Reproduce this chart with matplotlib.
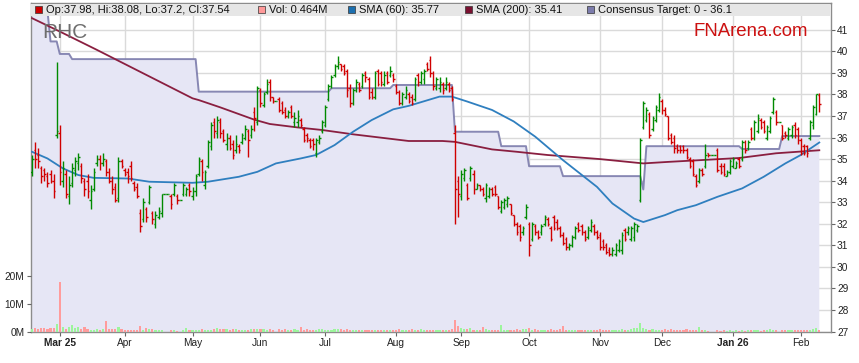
import numpy as np
import pandas as pd
import matplotlib
matplotlib.use('Agg')
import matplotlib.pyplot as plt
from matplotlib.patches import Rectangle

plt.rcParams['font.family'] = ['Liberation Sans', 'DejaVu Sans']

# RHC daily bars, 18 Feb 2025 - 10 Feb 2026 (weekdays, holidays are flat bars)
opens = [
    34.4, 35.4, 35.2, 34.6, 34.5, 34.2, 34.3, 34.0, 36.1, 36.2,
    34.0, 34.3, 33.3, 33.9, 34.5, 34.8, 34.7, 34.0, 34.0, 33.1,
    33.6, 34.8, 35.0, 34.8, 34.9, 34.4, 34.0, 33.7, 33.2, 34.9,
    34.5, 34.4, 34.7, 33.9, 33.7, 32.5, 32.2, 32.7, 33.0, 32.5,
    32.0, 32.3, 32.5, 33.4, 33.4, 33.3, 33.4, 33.3, 33.1, 33.4,
    33.4, 33.8, 33.3, 33.5, 34.3, 34.9, 33.8, 34.7, 35.6, 36.7,
    36.2, 36.7, 36.3, 35.7, 36.0, 35.7, 35.4, 35.6, 35.8, 36.0,
    36.3, 36.1, 37.2, 36.7, 38.2, 37.5, 38.1, 38.6, 37.9, 37.7,
    37.8, 37.6, 37.3, 37.0, 37.4, 36.7, 36.7, 36.8, 36.4, 36.1,
    35.9, 35.9, 35.3, 35.8, 36.3, 36.6, 37.8, 38.4, 38.9, 39.3,
    39.4, 39.3, 39.1, 38.3, 37.6, 38.2, 38.5, 38.4, 39.0, 38.7,
    38.1, 37.9, 39.1, 39.0, 38.5, 39.0, 38.9, 38.9, 38.4, 38.1,
    37.6, 37.9, 38.0, 37.9, 37.8, 38.9, 38.6, 38.7, 39.4, 39.6,
    39.0, 38.3, 38.3, 38.5, 38.3, 38.5, 38.3, 36.2, 34.0, 33.3,
    34.1, 33.8, 34.1, 34.3, 33.6, 33.8, 33.6, 33.2, 33.3, 33.6,
    33.7, 33.3, 32.6, 32.8, 32.9, 32.9, 32.4, 32.0, 31.9, 31.6,
    32.3, 32.0, 31.3, 31.9, 31.6, 31.6, 32.0, 32.2, 31.8, 32.3,
    32.1, 31.8, 31.5, 31.3, 30.9, 31.0, 31.4, 32.0, 31.9, 31.6,
    31.4, 31.7, 31.9, 31.6, 31.5, 31.2, 31.0, 30.8, 30.6, 30.6,
    30.8, 30.8, 31.7, 31.6, 31.3, 31.4, 31.7, 33.1, 36.5, 36.8,
    37.1, 36.4, 36.8, 37.3, 37.7, 37.3, 37.0, 36.1, 36.0, 35.6,
    35.6, 35.6, 35.4, 35.0, 34.9, 34.2, 34.0, 34.5, 34.7, 35.3,
    35.2, 35.2, 35.4, 34.7, 34.7, 34.2, 34.4, 34.7, 34.6, 35.0,
    35.0, 35.8, 35.5, 36.4, 36.0, 36.3, 36.8, 36.7, 36.0, 36.3,
    37.2, 37.2, 36.7, 36.6, 36.2, 36.0, 36.1, 36.6, 36.4, 35.9,
    35.6, 35.6, 36.0, 36.6, 37.1, 37.98,
]
highs = [
    35.2, 35.8, 35.5, 34.7, 34.6, 34.4, 34.5, 34.3, 39.5, 36.6,
    34.9, 34.5, 34.2, 34.8, 35.1, 35.3, 34.8, 34.1, 34.3, 33.8,
    34.6, 35.2, 35.2, 35.3, 35.0, 34.6, 34.2, 33.9, 35.1, 35.0,
    34.6, 34.6, 34.9, 34.0, 33.9, 32.7, 33.2, 32.8, 33.8, 32.6,
    32.6, 32.8, 33.4, 33.4, 33.4, 33.4, 33.9, 33.4, 33.1, 33.9,
    33.7, 33.9, 33.7, 34.3, 35.1, 35.0, 34.5, 35.9, 36.7, 36.9,
    37.0, 36.9, 36.4, 36.2, 36.1, 35.9, 36.1, 35.7, 36.2, 36.6,
    36.4, 36.6, 37.4, 38.4, 38.3, 38.1, 38.7, 38.7, 37.9, 37.7,
    37.9, 37.7, 37.4, 37.3, 37.5, 37.2, 37.3, 36.9, 36.5, 36.2,
    36.0, 36.0, 36.0, 36.1, 36.8, 37.5, 38.5, 38.9, 39.4, 39.8,
    39.4, 39.4, 39.2, 38.5, 38.3, 38.7, 38.6, 39.0, 39.1, 38.8,
    38.3, 39.1, 39.2, 39.1, 39.1, 39.1, 39.3, 39.0, 38.5, 38.2,
    38.1, 38.4, 38.1, 38.0, 38.8, 39.0, 39.1, 39.2, 39.5, 39.8,
    39.1, 38.8, 38.8, 38.6, 38.8, 38.6, 38.4, 36.6, 34.2, 34.5,
    34.6, 33.9, 34.7, 34.5, 33.9, 33.8, 33.7, 33.9, 33.7, 33.7,
    33.8, 33.3, 33.1, 33.2, 33.3, 32.9, 32.4, 32.1, 32.0, 31.9,
    32.9, 32.1, 32.1, 32.0, 31.7, 32.0, 32.4, 32.3, 31.9, 32.4,
    32.2, 31.9, 31.6, 31.4, 31.1, 31.5, 31.9, 32.1, 32.0, 31.7,
    31.9, 32.2, 32.0, 31.7, 31.6, 31.3, 31.1, 30.9, 30.9, 31.1,
    31.3, 31.6, 31.8, 31.9, 31.9, 32.1, 32.0, 36.0, 37.7, 37.4,
    37.2, 37.0, 37.5, 38.05, 37.8, 37.4, 37.0, 36.2, 36.1, 35.7,
    35.65, 35.65, 35.5, 35.1, 35.0, 34.3, 34.6, 34.6, 35.7, 35.3,
    35.2, 35.2, 35.5, 34.8, 34.8, 34.5, 35.0, 35.1, 34.9, 35.1,
    35.9, 35.9, 35.9, 36.5, 36.8, 37.1, 36.9, 36.8, 36.6, 37.0,
    37.9, 37.3, 36.7, 36.6, 36.3, 36.5, 36.6, 36.7, 36.5, 36.0,
    35.7, 35.65, 36.8, 37.5, 38.0, 38.08,
]
lows = [
    34.2, 34.6, 34.6, 33.9, 34.0, 33.7, 33.9, 33.2, 36.0, 33.8,
    33.7, 33.2, 32.9, 33.7, 34.2, 34.5, 33.9, 33.3, 33.2, 32.7,
    33.5, 34.7, 34.5, 34.7, 34.2, 33.9, 33.4, 33.0, 33.0, 34.6,
    34.2, 33.9, 34.0, 33.5, 33.2, 31.6, 32.1, 32.1, 32.9, 32.0,
    31.8, 32.2, 32.3, 33.4, 33.4, 32.7, 33.3, 32.9, 33.1, 33.3,
    33.3, 33.3, 33.1, 33.3, 34.2, 34.0, 33.6, 34.6, 35.4, 36.0,
    36.0, 36.0, 35.8, 35.4, 35.4, 35.0, 35.3, 35.3, 35.7, 35.9,
    35.1, 36.0, 36.3, 36.6, 37.4, 37.4, 38.0, 37.7, 37.6, 37.7,
    37.2, 37.1, 36.9, 36.9, 36.9, 36.5, 36.5, 36.5, 35.8, 35.8,
    35.5, 35.4, 35.1, 35.7, 36.2, 36.5, 37.7, 38.3, 38.8, 39.2,
    39.1, 38.9, 37.9, 37.4, 37.5, 38.1, 38.1, 38.3, 38.6, 37.8,
    37.8, 37.8, 38.4, 38.4, 38.4, 38.5, 38.8, 38.6, 38.0, 37.5,
    37.5, 37.8, 37.6, 37.5, 37.7, 38.4, 38.5, 38.5, 39.1, 38.8,
    38.2, 38.2, 38.1, 38.0, 38.2, 38.1, 37.7, 32.0, 32.3, 33.1,
    34.0, 33.1, 34.0, 33.4, 33.6, 33.5, 33.3, 33.0, 33.2, 33.3,
    33.3, 32.7, 32.5, 32.7, 32.8, 32.4, 31.9, 31.5, 31.2, 31.5,
    32.2, 30.5, 31.2, 31.5, 31.3, 31.5, 31.9, 31.9, 31.2, 31.7,
    31.7, 31.4, 31.0, 30.8, 30.8, 30.9, 31.3, 31.6, 31.5, 31.2,
    31.3, 31.6, 31.5, 31.3, 30.8, 30.8, 30.6, 30.5, 30.5, 30.5,
    30.7, 30.6, 31.2, 31.5, 31.2, 31.2, 31.6, 33.0, 36.4, 36.7,
    36.0, 36.3, 36.7, 37.2, 37.1, 37.0, 35.9, 35.7, 35.3, 35.3,
    35.3, 35.3, 35.0, 34.6, 34.2, 33.7, 33.9, 34.2, 34.6, 35.1,
    35.2, 35.2, 34.4, 34.3, 34.2, 34.2, 34.3, 34.6, 34.6, 34.6,
    34.9, 35.3, 35.4, 35.9, 35.9, 36.2, 36.4, 36.2, 35.9, 36.2,
    37.1, 36.6, 36.7, 35.9, 36.0, 35.9, 36.0, 36.0, 35.7, 35.2,
    35.2, 35.1, 35.9, 36.4, 37.05, 37.2,
]
closes = [
    35.0, 35.0, 34.9, 34.2, 34.3, 33.9, 34.0, 33.5, 36.3, 34.4,
    34.6, 33.4, 33.8, 34.6, 34.9, 35.1, 34.1, 33.6, 33.5, 33.5,
    34.4, 35.0, 34.8, 35.0, 34.4, 34.0, 33.6, 33.1, 34.9, 34.7,
    34.3, 34.2, 34.1, 33.6, 33.3, 31.9, 33.0, 32.3, 33.7, 32.2,
    32.4, 32.6, 33.4, 33.4, 33.4, 32.9, 33.8, 33.1, 33.1, 33.8,
    33.6, 33.5, 33.5, 34.2, 35.0, 34.4, 34.4, 35.8, 36.6, 36.3,
    36.8, 36.2, 35.9, 36.0, 35.5, 35.2, 35.7, 35.4, 36.1, 36.4,
    35.9, 36.4, 36.9, 38.3, 37.6, 38.0, 38.5, 37.9, 37.7, 37.7,
    37.3, 37.2, 37.0, 37.2, 37.0, 36.9, 37.0, 36.6, 35.9, 36.0,
    35.6, 35.7, 35.9, 36.0, 36.7, 37.4, 38.4, 38.8, 39.3, 39.5,
    39.2, 39.0, 38.2, 37.6, 38.2, 38.6, 38.2, 38.9, 38.8, 37.9,
    37.9, 39.0, 38.5, 38.6, 38.9, 38.6, 39.1, 38.7, 38.1, 37.6,
    38.0, 38.2, 37.7, 37.6, 38.7, 38.6, 39.0, 39.1, 39.2, 39.0,
    38.4, 38.7, 38.6, 38.2, 38.6, 38.2, 37.8, 33.6, 33.4, 34.3,
    34.5, 33.2, 34.6, 33.6, 33.8, 33.6, 33.4, 33.8, 33.6, 33.4,
    33.4, 32.8, 33.0, 33.1, 33.2, 32.5, 32.0, 31.6, 31.4, 31.8,
    32.8, 31.0, 32.0, 31.6, 31.4, 31.9, 32.3, 32.0, 31.3, 31.8,
    31.8, 31.5, 31.1, 30.9, 31.0, 31.4, 31.8, 31.7, 31.6, 31.3,
    31.8, 32.1, 31.6, 31.4, 30.9, 30.9, 30.7, 30.6, 30.8, 31.0,
    31.2, 31.5, 31.3, 31.8, 31.8, 32.0, 31.9, 35.9, 37.6, 37.3,
    36.1, 36.9, 37.4, 37.9, 37.3, 37.1, 36.0, 35.8, 35.5, 35.4,
    35.4, 35.4, 35.1, 34.7, 34.3, 33.8, 34.5, 34.3, 35.2, 35.2,
    35.2, 35.2, 34.5, 34.4, 34.3, 34.4, 34.9, 35.0, 34.8, 34.7,
    35.8, 35.4, 35.8, 36.0, 36.7, 36.9, 36.5, 36.3, 36.5, 36.9,
    37.8, 36.7, 36.7, 36.0, 36.1, 36.4, 36.5, 36.1, 35.9, 35.3,
    35.3, 35.3, 36.7, 37.4, 38.0, 37.54,
]
volume_m = [
    0.8, 1.2, 0.8, 1.2, 1.2, 0.8, 1.2, 1.1, 2.6, 17.7,
    1.5, 0.9, 1.5, 2.3, 1.3, 1.5, 1.0, 1.5, 0.9, 0.7,
    0.7, 1.0, 0.6, 0.9, 3.8, 0.8, 0.8, 0.8, 1.5, 0.8,
    0.5, 0.4, 0.5, 0.6, 0.5, 1.9, 0.6, 1.2, 0.8, 0.9,
    0.7, 0.6, 0.5, 0.0, 0.0, 0.4, 0.4, 0.3, 0.0, 0.4,
    1.2, 0.4, 0.4, 0.5, 0.5, 0.8, 0.6, 0.4, 0.7, 0.9,
    1.1, 0.8, 0.9, 0.8, 0.7, 0.9, 0.8, 0.6, 0.5, 0.5,
    0.6, 0.8, 0.9, 0.8, 0.8, 1.0, 0.7, 0.8, 0.6, 0.0,
    0.9, 0.6, 0.8, 0.5, 0.6, 0.9, 0.5, 1.7, 0.6, 0.8,
    0.5, 0.4, 0.6, 0.9, 1.0, 0.5, 0.5, 0.4, 0.8, 0.9,
    0.9, 0.4, 0.9, 0.4, 0.4, 0.4, 0.5, 0.6, 0.4, 0.5,
    0.6, 0.4, 0.5, 0.4, 0.5, 0.6, 0.4, 0.5, 0.4, 0.8,
    0.5, 0.6, 0.5, 0.8, 0.6, 0.5, 0.9, 0.6, 0.5, 0.6,
    0.5, 0.4, 0.6, 0.5, 0.5, 0.6, 0.8, 4.2, 2.0, 1.2,
    0.8, 1.0, 1.1, 0.6, 0.5, 0.6, 1.5, 0.9, 0.6, 0.5,
    0.4, 0.5, 2.3, 0.6, 0.4, 0.5, 0.5, 0.8, 0.6, 0.8,
    0.9, 1.2, 0.6, 0.8, 0.5, 0.5, 0.6, 0.6, 0.8, 0.6,
    0.5, 0.9, 1.9, 0.6, 0.5, 0.4, 0.4, 0.5, 0.5, 0.4,
    0.6, 0.7, 0.5, 0.5, 0.8, 0.6, 0.5, 0.7, 0.6, 0.5,
    0.6, 0.9, 0.7, 0.6, 0.9, 1.2, 1.4, 3.0, 1.2, 0.8,
    0.7, 0.8, 0.6, 0.7, 0.6, 0.8, 0.6, 0.9, 0.5, 0.6,
    0.7, 0.6, 0.9, 0.7, 0.7, 0.5, 1.5, 0.6, 0.5, 0.3,
    0.0, 0.0, 0.4, 0.3, 0.4, 0.3, 0.4, 0.3, 0.4, 0.3,
    0.4, 0.3, 0.5, 0.4, 0.4, 0.5, 0.3, 0.4, 0.5, 0.8,
    0.5, 0.7, 0.0, 0.6, 0.4, 0.5, 0.4, 0.6, 0.5, 0.4,
    0.5, 0.4, 0.6, 0.9, 1.2, 0.464,
]

# moving averages at sample bars
sma60_bar = [0, 5, 10, 15, 20, 31, 38, 52, 57, 67, 73, 79, 87, 92, 98, 104, 110,
             117, 122, 132, 136, 141, 149, 156, 163, 172, 183, 188, 195, 198,
             205, 209, 215, 222, 230, 237, 244, 249, 255]
sma60_val = [35.34, 35.03, 34.57, 34.26, 34.13, 34.10, 33.95, 33.90, 33.95, 34.18,
             34.41, 34.80, 35.03, 35.19, 35.65, 36.27, 36.81, 37.31, 37.47, 37.90,
             37.90, 37.67, 37.28, 36.75, 36.04, 34.95, 33.71, 32.94, 32.24, 32.08,
             32.40, 32.63, 32.86, 33.25, 33.64, 34.18, 34.80, 35.19, 35.77]
sma200_bar = [0, 9, 21, 52, 54, 61, 72, 77, 86, 94, 104, 122, 133, 137, 149, 157,
              167, 184, 198, 206, 229, 241, 255]
sma200_val = [41.54, 40.92, 40.07, 37.82, 37.74, 37.40, 36.83, 36.63, 36.47, 36.35,
              36.15, 35.84, 35.84, 35.80, 35.45, 35.34, 35.19, 35.00, 34.80, 34.87,
              35.05, 35.27, 35.41]

# consensus target: new value from that bar on
target_from_bar = [0, 6, 9, 13, 54, 97, 117, 137, 152, 161, 172, 198, 199, 230, 243]
target_val = [41.9, 40.46, 39.88, 39.64, 38.13, 38.29, 38.44, 36.27, 35.6, 34.67,
              34.21, 33.59, 35.6, 35.47, 36.07]

n = len(closes)
x = np.arange(n)
o = np.array(opens)
h = np.array(highs)
l = np.array(lows)
c = np.array(closes)
vol = np.array(volume_m)

target = np.empty(n)
for start, end, val in zip(target_from_bar, target_from_bar[1:] + [n], target_val):
    target[start:end] = val

dates = pd.bdate_range('2025-02-18', periods=n)
tick_pos, tick_lab, tick_bold = [], [], []
for i in range(1, n):
    if dates[i].month != dates[i - 1].month:
        first = len(tick_pos) == 0
        bold = first or dates[i].month == 1
        tick_pos.append(i)
        tick_lab.append(dates[i].strftime('%b %y') if bold else dates[i].strftime('%b'))
        tick_bold.append(bold)

W, H = 859, 363
fig = plt.figure(figsize=(W / 100, H / 100), dpi=100)
ax_left, ax_right, ax_top, ax_bot = 30.7, 830.7, 2.7, 331.5
ax = fig.add_axes([ax_left / W, 1 - ax_bot / H, (ax_right - ax_left) / W, (ax_bot - ax_top) / H])

px_per_unit = 21.55
ax.set_ylim(27, 27 + (ax_bot - ax_top) / px_per_unit)
bar_px = 3.087
ax.set_xlim(-(32 - ax_left) / bar_px, n - 1 + (ax_right - 819.3) / bar_px)

ax.set_axisbelow(True)
ax.grid(True, color='#DADADA', lw=1.0)
ax.fill_between(x, 20, target, color='#E6E6F5', lw=0, zorder=1)
ax.plot(x, target, color='#7C7CAC', lw=1.4, alpha=0.9, zorder=2)
ax.plot(sma200_bar, sma200_val, color='#8A1F40', lw=1.3, zorder=3)
ax.plot(sma60_bar, sma60_val, color='#2F7FBF', lw=1.3, zorder=3)

up = c >= o
cols = np.where(up, '#008A00', '#D00000')
ax.vlines(x, l, h, colors=cols, lw=1.0, zorder=4)
ax.hlines(o, x - 0.5, x, colors=cols, lw=1.0, zorder=4)
ax.hlines(c, x, x + 0.5, colors=cols, lw=1.0, zorder=4)

ax.set_yticks(range(27, 42))
ax.set_xticks(tick_pos)
ax.set_xticklabels(tick_lab)
for t, b in zip(ax.get_xticklabels(), tick_bold):
    if b:
        t.set_fontweight('bold')
ax.tick_params(axis='x', length=3, width=0.8, color='#666666', labelsize=7.3, pad=2, labelcolor='#222222')
for s in ax.spines.values():
    s.set_color('#8C8C8C')
    s.set_linewidth(1.0)

ax_v = ax.twinx()
ax_v.set_ylim(0, (ax_bot - ax_top) / 2.8)
vcols = np.where(up, '#9CF59C', '#FF9C9C')
ax_v.bar(x, vol, width=0.7, color=vcols, lw=0, zorder=2)
ax_v.yaxis.set_ticks_position('left')
ax_v.set_yticks([0, 10, 20])
ax_v.set_yticklabels(['0M', '10M', '20M'])
ax_v.tick_params(axis='y', length=3, width=0.8, color='#666666', labelsize=7.3, pad=1.5,
                 labelcolor='#222222', left=True, labelleft=True, right=False, labelright=False)
for s in ax_v.spines.values():
    s.set_visible(False)

# twinx moves the price ticks to the left, put them back on the right
ax.yaxis.set_ticks_position('right')
ax.tick_params(axis='y', length=3, width=0.8, color='#666666', labelsize=7.3, pad=1.5,
               labelcolor='#222222', left=False, labelleft=False, right=True, labelright=True)


def fxy(px, py):
    return px / W, 1 - py / H


# legend band on top of the plot
bx, by = fxy(ax_left + 0.6, 16)
fig.add_artist(Rectangle((bx, by), (ax_right - ax_left - 1.2) / W, 12.5 / H,
                         transform=fig.transFigure, facecolor='#E6E6E6', edgecolor='none', zorder=5))
legend_items = [
    (35, '#CC0000', 'Op:37.98, Hi:38.08, Lo:37.2, Cl:37.54'),
    (258, '#FF9999', 'Vol: 0.464M'),
    (348, '#1C6FAF', 'SMA (60): 35.77'),
    (465, '#7A1030', 'SMA (200): 35.41'),
    (587, '#7C7CAC', 'Consensus Target: 0 - 36.1'),
]
for lx, lc, lt in legend_items:
    sx, sy = fxy(lx, 13)
    fig.add_artist(Rectangle((sx, sy), 7 / W, 7 / H, transform=fig.transFigure,
                             facecolor=lc, edgecolor='#333333', lw=0.5, zorder=6))
    tx, ty = fxy(lx + 11, 9.8)
    fig.text(tx, ty, lt, fontsize=8, color='#111111', va='center', ha='left', zorder=7)

rx, ry = fxy(42, 33)
fig.text(rx, ry, 'RHC', fontsize=15, color='#6E6E6E', va='center', ha='left', zorder=7)
fx, fy = fxy(808, 32)
fig.text(fx, fy, 'FNArena.com', fontsize=13.4, color='#CC1111', va='center', ha='right', zorder=7)

fig.savefig('out.png', dpi=100, facecolor='white')
